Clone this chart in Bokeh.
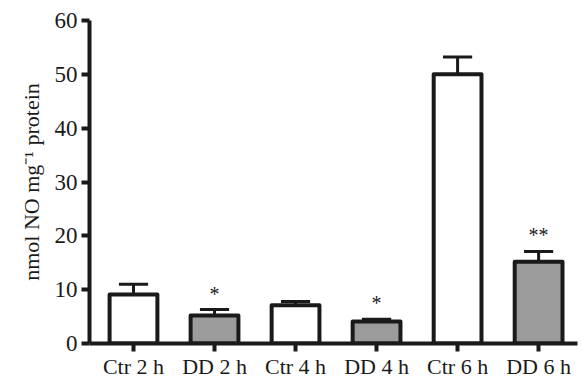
from bokeh.plotting import figure
from bokeh.models import ColumnDataSource, FixedTicker, Range1d
from bokeh.embed import file_html
from bokeh.resources import INLINE
from bokeh.core.properties import value

categories = ["Ctr 2 h", "DD 2 h", "Ctr 4 h", "DD 4 h", "Ctr 6 h", "DD 6 h"]
means = [9.1, 5.2, 7.1, 4.1, 50.0, 15.2]
errors = [1.9, 1.1, 0.7, 0.4, 3.2, 1.9]
fills = ["white", "#9b9b9b", "white", "#9b9b9b", "white", "#9b9b9b"]
marks = ["", "*", "", "*", "", "**"]
y_ticks = [0, 10, 20, 30, 40, 50, 60]

xs = list(range(len(categories)))
tops = [m + e for m, e in zip(means, errors)]
src = ColumnDataSource(dict(x=xs, top=means, err=tops, fill=fills, mark=marks,
                            xl=[x - 0.18 for x in xs], xr=[x + 0.18 for x in xs]))

FONT = "Liberation Serif"
p = figure(width=583, height=383, output_backend="svg", toolbar_location=None,
           x_range=Range1d(-0.543, 5.48), y_range=Range1d(0, 60),
           min_border_left=89, min_border_top=20, min_border_bottom=40, min_border_right=6)
p.outline_line_color = None
p.grid.grid_line_color = None

p.segment(x0="x", y0="top", x1="x", y1="err", source=src, line_color="#1a1a1a", line_width=3)
p.segment(x0="xl", y0="err", x1="xr", y1="err", source=src, line_color="#1a1a1a", line_width=3)
p.vbar(x="x", top="top", bottom=0, width=0.59, source=src, fill_color="fill",
       line_color="#1a1a1a", line_width=4, line_join="round")
p.text(x="x", y="err", text="mark", source=src, text_align="center", text_baseline="bottom",
       y_offset=-5, text_font=value(FONT), text_font_size="20px", text_color="#1a1a1a")

p.xaxis.ticker = FixedTicker(ticks=xs)
p.xaxis.major_label_overrides = {i: c for i, c in enumerate(categories)}
p.yaxis.ticker = FixedTicker(ticks=y_ticks)
for ax in (p.xaxis, p.yaxis):
    ax.axis_line_width = 4
    ax.axis_line_color = "#1a1a1a"
    ax.major_tick_line_width = 4
    ax.major_tick_line_color = "#1a1a1a"
    ax.major_tick_out = 8
    ax.major_tick_in = 0
    ax.minor_tick_line_color = None
    ax.major_label_text_font = FONT
    ax.major_label_text_color = "#1a1a1a"
p.xaxis.major_label_text_font_size = "22px"
p.yaxis.major_label_text_font_size = "23px"
p.xaxis.major_label_standoff = 2
p.yaxis.major_label_standoff = 4
p.yaxis.axis_label = "nmol NO mg\u207b\u00b9 protein"
p.yaxis.axis_label_text_font = FONT
p.yaxis.axis_label_text_font_style = "normal"
p.yaxis.axis_label_text_font_size = "22px"
p.yaxis.axis_label_text_color = "#1a1a1a"
p.yaxis.axis_label_standoff = 8

open("out.html", "w").write(file_html(p, INLINE))
